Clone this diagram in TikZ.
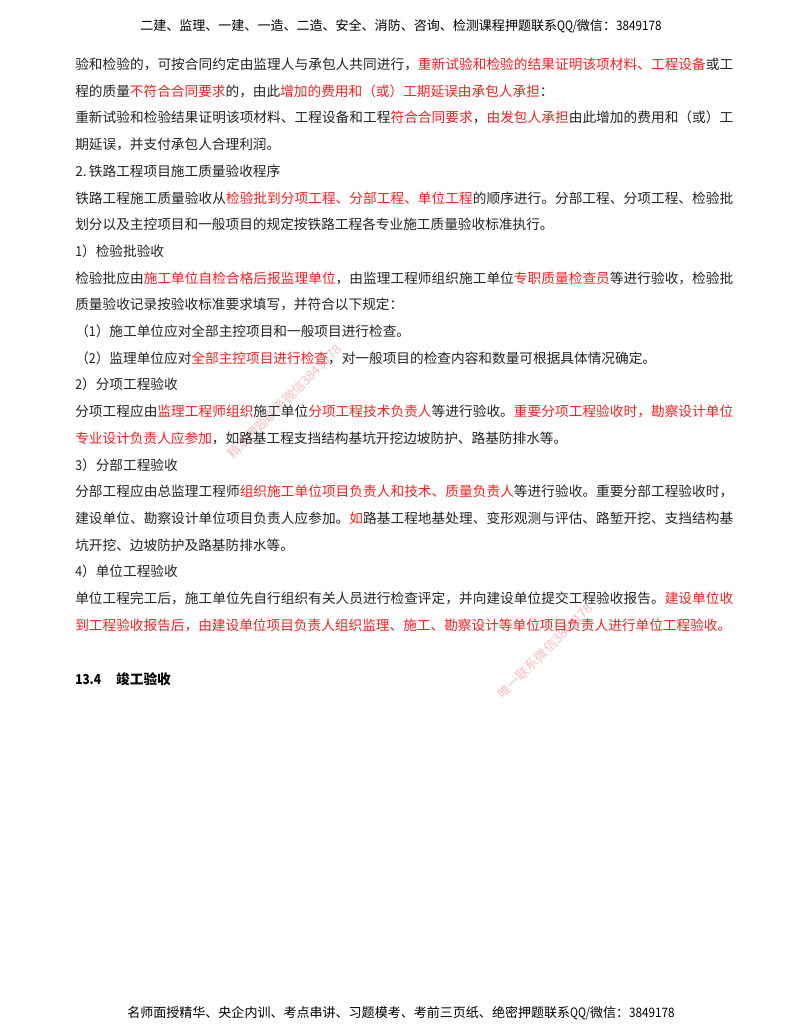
\documentclass[tikz,border=0pt]{standalone}
\usepackage{fontspec}
\usepackage{graphicx}
\setmainfont{Noto Sans CJK SC}
\definecolor{redtxt}{RGB}{255,30,30}
\definecolor{bodytxt}{RGB}{35,35,35}
\definecolor{wmark}{RGB}{250,190,190}
\XeTeXinterchartokenstate=1
\newcount\cjkcode
\cjkcode="4E00
\loop\ifnum\cjkcode<"A000 \XeTeXcharclass\cjkcode=1 \advance\cjkcode by 1 \repeat
\XeTeXcharclass"3001=3 \XeTeXcharclass"3002=3 \XeTeXcharclass"FF0C=3
\XeTeXcharclass"FF1A=3 \XeTeXcharclass"FF09=3 \XeTeXcharclass"FF08=2
\newskip\cjkglue \cjkglue=0pt plus 1fil
\XeTeXinterchartoks 1 1 = {\hskip\cjkglue}
\XeTeXinterchartoks 1 2 = {\hskip\cjkglue}
\XeTeXinterchartoks 1 3 = {\hskip\cjkglue}
\XeTeXinterchartoks 2 1 = {\hskip\cjkglue}
\XeTeXinterchartoks 3 1 = {\hskip\cjkglue}
\XeTeXinterchartoks 3 2 = {\hskip\cjkglue}
\newcommand\Rd[1]{\hskip\cjkglue\textcolor{redtxt}{#1}\hskip\cjkglue}
\newcommand\Rend[1]{\hskip\cjkglue\textcolor{redtxt}{#1}}
\newcommand\full[1]{\hbox to 493.5pt{#1}}
\newcommand\nar[1]{\scalebox{0.9}[1]{#1}}
\newcommand\qqlabel{\scalebox{0.82}[1]{QQ/}}
\tikzset{
  bodyline/.style={anchor=base west,inner sep=0pt,text=bodytxt,font=\fontsize{10.25pt}{12pt}\selectfont},
  headline/.style={anchor=base west,inner sep=0pt,text=black,font=\fontsize{9.77pt}{12pt}\selectfont},
  wmarktext/.style={anchor=base west,inner sep=0pt,text=wmark,font=\fontsize{9.75pt}{12pt}\selectfont}
}
\begin{document}
\begin{tikzpicture}[x=0.75pt,y=-0.75pt]
\useasboundingbox (0,0) rectangle (800,1035);
\fill[white] (0,0) rectangle (800,1035);
% watermarks
\node[wmarktext,rotate=45] (wm1) at (233,460) {精准押题联系微信3849178};
\node[wmarktext,rotate=45] (wm2) at (503,700) {唯一联系微信3849178};
% header / footer
\node[headline] (hd) at (140,30) {二建、监理、一建、一造、二造、安全、消防、咨询、检测课程押题联系\qqlabel 微信：\nar{3849178}};
\node[headline] (ft) at (127,1017) {名师面授精华、央企内训、考点串讲、习题模考、考前三页纸、绝密押题联系\qqlabel 微信：\nar{3849178}};
% body
\node[bodyline] (l1) at (75,69.5) {\full{验和检验的，可按合同约定由监理人与承包人共同进行，\Rd{重新试验和检验的结果证明该项材料、工程设备}或工}};
\node[bodyline] (l2) at (75,96.2) {程的质量\Rd{不符合合同要求}的，由此\Rd{增加的费用和（或）工期延误由承包人承担}：};
\node[bodyline] (l3) at (75,122.9) {\full{重新试验和检验结果证明该项材料、工程设备和工程\Rd{符合合同要求}，\Rd{由发包人承担}由此增加的费用和（或）工}};
\node[bodyline] (l4) at (75,149.6) {期延误，并支付承包人合理利润。};
\node[bodyline] (l5) at (75,176.3) {\hbox to 1em{2.\hfil}铁路工程项目施工质量验收程序};
\node[bodyline] (l6) at (75,203) {\full{铁路工程施工质量验收从\Rd{检验批到分项工程、分部工程、单位工程}的顺序进行。分部工程、分项工程、检验批}};
\node[bodyline] (l7) at (75,229.7) {划分以及主控项目和一般项目的规定按铁路工程各专业施工质量验收标准执行。};
\node[bodyline] (l8) at (75,256.4) {\nar{1}）检验批验收};
\node[bodyline] (l9) at (75,283.1) {\full{检验批应由\Rd{施工单位自检合格后报监理单位}，由监理工程师组织施工单位\Rd{专职质量检查员}等进行验收，检验批}};
\node[bodyline] (l10) at (75,309.8) {质量验收记录按验收标准要求填写，并符合以下规定：};
\node[bodyline] (l11) at (75,336.5) {（\nar{1}）施工单位应对全部主控项目和一般项目进行检查。};
\node[bodyline] (l12) at (75,363.2) {（\nar{2}）监理单位应对\Rd{全部主控项目进行检查}，对一般项目的检查内容和数量可根据具体情况确定。};
\node[bodyline] (l13) at (75,389.9) {\nar{2}）分项工程验收};
\node[bodyline] (l14) at (75,416.6) {\full{分项工程应由\Rd{监理工程师组织}施工单位\Rd{分项工程技术负责人}等进行验收。\Rend{重要分项工程验收时，勘察设计单位}}};
\node[bodyline] (l15) at (75,443.3) {\textcolor{redtxt}{专业设计负责人应参加}，如路基工程支挡结构基坑开挖边坡防护、路基防排水等。};
\node[bodyline] (l16) at (75,470) {\nar{3}）分部工程验收};
\node[bodyline] (l17) at (75,496.7) {\full{分部工程应由总监理工程师\Rd{组织施工单位项目负责人和技术、质量负责人}等进行验收。重要分部工程验收时，}};
\node[bodyline] (l18) at (75,523.4) {\full{建设单位、勘察设计单位项目负责人应参加。\Rd{如}路基工程地基处理、变形观测与评估、路堑开挖、支挡结构基}};
\node[bodyline] (l19) at (75,550.1) {坑开挖、边坡防护及路基防排水等。};
\node[bodyline] (l20) at (75,576.8) {\nar{4}）单位工程验收};
\node[bodyline] (l21) at (75,603.5) {\full{单位工程完工后，施工单位先自行组织有关人员进行检查评定，并向建设单位提交工程验收报告。\Rend{建设单位收}}};
\node[bodyline] (l22) at (75,630.2) {\textcolor{redtxt}{到工程验收报告后，由建设单位项目负责人组织监理、施工、勘察设计等单位项目负责人进行单位工程验收。}};
\node[bodyline,text=black,font=\fontsize{10.25pt}{12pt}\selectfont\bfseries] (h1) at (75,684.5) {\scalebox{0.87}[1]{13.4}\hspace{1.1em}竣工验收};
\end{tikzpicture}
\end{document}
